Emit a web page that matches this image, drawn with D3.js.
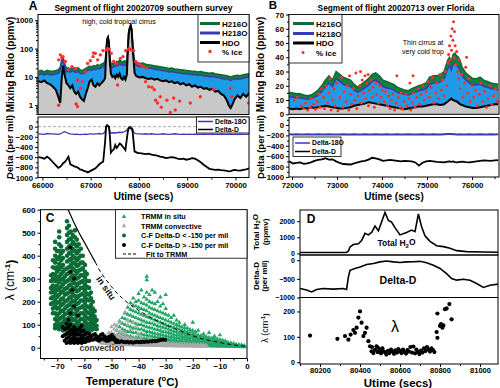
<!DOCTYPE html>
<html>
<head>
<meta charset="utf-8">
<script src="https://cdn.jsdelivr.net/npm/d3@7"></script>
<style>
  body { margin: 0; background: #fff; }
  svg { font-family: "Liberation Sans", Arial, sans-serif; }
</style>
</head>
<body>
<div id="chart"></div>
<script>
// ---------- Panel A: flight 20020709 ----------
const tA = [65920, 65980, 66040, 66100, 66160, 66220, 66280, 66330, 66370, 66400,
  66430, 66460, 66500, 66540, 66580, 66620, 66660, 66700, 66740, 66780,
  66820, 66860, 66900, 66940, 66980, 67020, 67060, 67100, 67140, 67180,
  67220, 67260, 67300, 67320, 67340, 67360, 67380, 67400, 67420, 67450,
  67480, 67510, 67540, 67570, 67600, 67630, 67660, 67690, 67720, 67750,
  67770, 67790, 67810, 67830, 67850, 67870, 67890, 67910, 67940, 67980,
  68020, 68080, 68140, 68200, 68260, 68320, 68380, 68440, 68500, 68560,
  68620, 68680, 68740, 68800, 68860, 68920, 68980, 69040, 69100, 69160,
  69220, 69280, 69340, 69400, 69460, 69520, 69580, 69640, 69700, 69760,
  69820, 69860, 69900, 69940, 69980, 70040, 70100, 70160, 70220, 70280, 70340];
const h216oA = [16, 17, 15, 17, 16, 16, 17, 18, 22, 40,
  50, 30, 20, 21, 19, 22, 20, 19, 21, 18,
  17, 18, 20, 22, 24, 22, 25, 24, 27, 25,
  28, 30, 35, 80, 230, 270, 180, 45, 30, 28,
  32, 30, 35, 33, 40, 36, 33, 37, 34, 40,
  120, 420, 600, 720, 520, 160, 60, 38, 34, 32,
  30, 31, 28, 27, 26, 25, 24, 23, 22, 21,
  20, 20.5, 19, 18.5, 18, 17.5, 17, 16.5, 16, 16,
  15, 15.5, 14.5, 14, 13.5, 14, 13, 12.5, 12, 11.5,
  11, 10.5, 10, 10.5, 11, 11.5, 11, 12, 12.5, 13, 13];
const h218oA = [12, 13, 11.5, 13, 12, 12, 13, 13.5, 16, 30,
  40, 23, 15, 16, 14.5, 17, 15, 14.5, 16, 13.5,
  13, 13.5, 15, 17, 18, 17, 19, 18, 20, 19,
  21, 23, 27, 65, 200, 240, 150, 35, 23, 21,
  24, 23, 27, 25, 30, 27, 25, 28, 26, 30,
  100, 380, 540, 660, 470, 135, 48, 29, 26, 24,
  23, 23.5, 21, 20.5, 20, 19, 18, 17.5, 16.5, 16,
  15, 15.5, 14.5, 14, 13.5, 13, 13, 12.5, 12, 12,
  11.5, 11.5, 11, 10.5, 10, 10.5, 10, 9.5, 9, 8.5,
  8.5, 8, 7.5, 8, 8.5, 8.5, 8.5, 9, 9.5, 10, 10];
const hdoA = [7, 6.5, 7.5, 6, 5.5, 4.5, 3.5, 2, 1.2, 8,
  25, 12, 6, 5, 4, 5, 3, 2.5, 3, 2,
  1.6, 1.4, 2.5, 4, 7, 8, 5, 4.5, 6, 5,
  6, 7, 9, 60, 200, 240, 150, 30, 13, 10,
  11, 9, 12, 10, 13, 9, 8, 10, 8, 12,
  80, 350, 500, 620, 450, 120, 40, 14, 11, 10,
  9.5, 10, 9, 8.5, 9, 8, 8.5, 7.5, 7, 7.5,
  6.5, 7, 6, 6.5, 5.5, 6, 5, 5.5, 4.5, 5,
  4.2, 4.5, 3.8, 4, 3.5, 3.8, 3, 3.2, 2.5, 2.2,
  1.5, 1.0, 0.8, 1.1, 1.6, 2.2, 1.8, 2.5, 2, 2.6, 2.2];
const deltaDA = [-600, -610, -630, -590, -640, -700, -760, -810, -790, -760,
  -720, -700, -650, -590, -740, -760, -780, -790, -810, -840,
  -850, -870, -880, -900, -880, -860, -840, -820, -780, -740,
  -710, -690, -300, 0, 30, 20, 0, -200, -510, -470,
  -450, -360, -420, -380, -330, -350, -390, -420, -460, -240,
  -100, -30, -20, -30, -40, -100, -300, -490, -500, -520,
  -520, -530, -540, -530, -550, -560, -570, -590, -600, -620,
  -610, -600, -610, -630, -640, -630, -650, -640, -620, -630,
  -660, -700, -750, -790, -830, -840, -850, -845, -855, -860,
  -870, -880, -875, -860, -850, -860, -865, -850, -840, -820, -830];
const delta18OA = [-140, -145, -150, -135, -140, -140, -145, -150, -140, -130,
  -110, -100, -115, -130, -140, -145, -150, -145, -150, -155,
  -150, -150, -145, -150, -140, -140, -145, -140, -140, -135,
  -140, -135, -100, -10, 10, 0, -20, -90, -130, -125,
  -120, -125, -120, -115, -110, -115, -110, -100, -90, -70,
  -40, -10, 0, 5, -10, -40, -100, -130, -135, -140,
  -140, -145, -140, -145, -140, -145, -150, -145, -140, -145,
  -150, -145, -140, -145, -150, -145, -150, -145, -150, -145,
  -150, -150, -145, -150, -150, -145, -150, -150, -145, -150,
  -150, -150, -145, -150, -150, -150, -145, -150, -150, -145, -150];
const iceA = [[66338, 40], [66373, 60], [66428, 52], [66476, 35], [66545, 18], [66614, 23], [66683, 20],
  [66731, 7.8], [66787, 4], [66828, 6.8], [66890, 15], [66938, 30], [66994, 37], [67049, 52],
  [67097, 68], [67145, 40], [67201, 60], [67256, 85], [67325, 90], [67380, 95], [67428, 68],
  [67477, 35], [67532, 30], [67559, 5.2], [67615, 45], [67670, 52], [67725, 85], [67780, 95],
  [67835, 90], [67891, 85], [67932, 35], [67987, 30], [68042, 26], [68098, 23], [68139, 6.8],
  [68167, 20], [68201, 4.5], [68270, 4.3], [68318, 3.5], [68346, 1.5], [68387, 1.2], [68443, 2],
  [68581, 1.5], [68719, 1.8], [66338, 1.0], [66700, 1.1], [66728, 0.9], [68463, 0.85],
  [68650, 0.55], [68753, 0.68], [68843, 1.4], [69064, 1.2], [69271, 2], [69547, 3.7],
  [69892, 4], [69927, 2], [70271, 1.2], [66400, 48], [67060, 70], [67350, 100], [67800, 100]];

// ---------- Panel B: flight 20020713 ----------
const tB = [71940, 72020, 72100, 72180, 72260, 72340, 72420, 72500, 72580, 72660,
  72740, 72820, 72900, 72980, 73060, 73140, 73220, 73300, 73380, 73460,
  73540, 73620, 73700, 73780, 73860, 73940, 74020, 74100, 74180, 74260,
  74340, 74420, 74500, 74580, 74660, 74740, 74820, 74900, 74980, 75060,
  75140, 75220, 75300, 75380, 75460, 75500, 75540, 75580, 75620, 75660,
  75700, 75740, 75780, 75860, 75940, 76020, 76100, 76180, 76260, 76340,
  76420, 76500, 76580];
const h216oB = [15.5, 15, 14.5, 14.5, 13.5, 13, 13.5, 15, 17, 20,
  24, 27, 24, 30, 28, 26, 25, 24, 21, 19,
  21, 23, 25, 28, 29, 27, 24, 23, 22, 21,
  19, 18, 17, 16.5, 18, 19, 20, 21, 22, 26,
  27, 27, 28, 30, 38, 40, 37, 42, 43, 41,
  40, 37, 33, 29, 27, 25, 25, 26, 24, 23,
  22, 21.5, 21];
const h218oB = [12.5, 12, 11.5, 11.5, 11, 10.5, 11, 12, 13.5, 16,
  19.5, 22, 19.5, 25, 23, 21, 20, 19.5, 17, 15.5,
  17, 18.5, 20.5, 23, 24, 22, 19.5, 18.5, 18, 17,
  15.5, 14.5, 14, 13.5, 14.5, 15.5, 16.5, 17, 18, 21,
  22, 22, 23, 25, 32, 34, 31, 35, 36, 34,
  33, 30, 27, 24, 22, 20.5, 20.5, 21, 19.5, 19,
  18, 17.5, 17];
const hdoB = [4, 3.5, 4, 3.5, 4.5, 4, 5, 4.5, 5, 5.5,
  6, 5.5, 5, 4.5, 4, 4, 4.5, 5, 6, 6.5,
  7, 7.5, 8.5, 8, 7.5, 7, 6.5, 6, 5.5, 5,
  4.5, 4, 3.5, 4, 4.5, 5, 5.5, 5.5, 6, 6.5,
  7, 7, 6.5, 7, 9, 10, 11, 10, 9.5, 9,
  8, 7, 6.5, 5.5, 5, 4.5, 4.5, 5, 5.5, 6,
  6.5, 7, 7];
const deltaDB = [-700, -740, -730, -720, -745, -740, -720, -690, -670, -660,
  -640, -665, -660, -700, -730, -750, -755, -760, -740, -720,
  -700, -690, -665, -630, -640, -660, -690, -680, -670, -680,
  -690, -700, -690, -695, -700, -720, -780, -725, -700, -690,
  -700, -710, -715, -720, -705, -700, -710, -700, -715, -720,
  -715, -710, -705, -715, -720, -710, -700, -690, -680, -685,
  -690, -680, -675];
const delta18OB = [-180, -185, -180, -182, -185, -180, -183, -185, -180, -182,
  -185, -180, -182, -185, -183, -180, -185, -182, -180, -185,
  -182, -180, -185, -183, -180, -182, -185, -180, -183, -185,
  -180, -182, -185, -180, -183, -185, -182, -180, -185, -182,
  -180, -183, -185, -180, -175, -172, -175, -178, -180, -182,
  -185, -180, -182, -185, -180, -183, -185, -180, -182, -185,
  -180, -182, -180];
const iceB = [[72050, 10], [72120, 12], [72200, 6], [72260, 4], [72300, 8], [72350, 3], [72400, 5],
  [72430, 11], [72480, 7], [72520, 3.5], [72560, 9], [72600, 14], [72620, 5], [72660, 18],
  [72700, 12], [72720, 4], [72760, 20], [72790, 8], [72820, 15], [72850, 25], [72870, 3],
  [72900, 10], [72930, 18], [72960, 6], [73000, 22], [73020, 2.5], [73060, 12], [73100, 26],
  [73130, 5], [73160, 16], [73200, 9], [73230, 20], [73260, 3], [73280, 27], [73300, 14],
  [73330, 7], [73360, 18], [73400, 10], [73420, 29], [73440, 4], [73470, 13], [73500, 20],
  [73520, 30], [73540, 8], [73560, 24], [73590, 15], [73620, 27], [73640, 11], [73660, 22],
  [73690, 28], [73700, 6], [73720, 17], [73750, 24], [73780, 12], [73800, 19], [73830, 5],
  [73860, 22], [73880, 14], [73920, 8], [73950, 20], [73980, 12], [74010, 17], [74050, 9],
  [74080, 16], [74120, 6], [74150, 13], [74180, 4], [74210, 10], [74240, 14], [74280, 3],
  [74310, 8], [74330, 27], [74360, 12], [74400, 5], [74430, 15], [74460, 3.5], [74500, 9],
  [74530, 14], [74560, 6], [74600, 11], [74620, 22], [74640, 3], [74680, 8], [74690, 27],
  [74700, 15], [74740, 5], [74770, 12], [74800, 18], [74830, 7], [74870, 14], [74900, 20],
  [74940, 10], [74980, 16], [75020, 23], [75050, 12], [75090, 19], [75120, 26], [75150, 8],
  [75190, 15], [75220, 22], [75260, 11], [75290, 28], [75320, 17], [75350, 24], [75380, 13],
  [75410, 30], [75440, 20], [75460, 36], [75480, 42], [75500, 48], [75510, 38], [75530, 55],
  [75545, 45], [75560, 60], [75575, 52], [75590, 65], [75600, 40], [75610, 58], [75625, 48],
  [75640, 35], [75660, 44], [75680, 30], [75700, 25], [75720, 38], [75740, 18], [75770, 28],
  [75800, 12], [75830, 22], [75860, 33], [75880, 40], [75900, 15], [75930, 25], [75960, 9],
  [76000, 20], [76040, 12], [76080, 17], [76120, 6], [76160, 14], [76200, 22], [76240, 9],
  [76280, 16], [76320, 5], [76360, 11], [76400, 20], [76440, 7], [76480, 13], [76520, 18], [76560, 9]];

// ---------- Panel C: lambda vs temperature ----------
// columns: [temperature, [lambda values...]]
const trmmInSitu = [
  [-48, [55, 75, 95]], [-47, [45, 65, 90, 115]], [-46, [40, 60, 80, 105, 130]],
  [-45, [35, 55, 75, 100, 125, 150]], [-44, [35, 50, 70, 95, 120, 145, 175]],
  [-43, [30, 50, 70, 90, 115, 140, 165, 195]], [-42, [30, 45, 65, 85, 110, 135, 160, 185, 215]],
  [-41, [30, 45, 65, 85, 105, 130, 155, 180, 200]], [-40, [28, 45, 60, 80, 100, 125, 150, 175, 205, 235]],
  [-39, [28, 40, 60, 80, 100, 120, 145, 170, 195, 250]], [-38, [26, 40, 55, 75, 95, 115, 140, 165, 190, 220]],
  [-37, [25, 40, 55, 70, 90, 110, 135, 160, 185, 210, 240, 295, 310]],
  [-36, [24, 38, 52, 70, 88, 108, 130, 150, 175, 200, 230]],
  [-35, [24, 36, 50, 65, 85, 105, 125, 145, 170, 195, 250]],
  [-34, [22, 35, 48, 62, 80, 100, 120, 140, 165, 190, 240]],
  [-33, [22, 34, 46, 60, 78, 95, 115, 135, 160, 200]],
  [-32, [20, 32, 45, 58, 75, 92, 110, 130, 155, 180, 220]],
  [-31, [20, 30, 42, 55, 70, 88, 105, 125, 150, 190]],
  [-30, [18, 30, 40, 52, 68, 85, 100, 120, 145, 170, 230]],
  [-29, [18, 28, 38, 50, 65, 80, 95, 115, 140]], [-28, [16, 26, 36, 48, 62, 76, 92, 110, 130]],
  [-27, [16, 25, 35, 46, 58, 72, 88, 105, 140]], [-26, [15, 24, 33, 44, 56, 70, 85, 100, 120]],
  [-25, [14, 22, 32, 42, 54, 66, 80, 95, 110]], [-24, [14, 22, 30, 40, 50, 62, 76, 90]],
  [-23, [13, 20, 28, 38, 48, 60, 72, 86, 100]], [-22, [12, 19, 27, 36, 46, 57, 70, 85]],
  [-21, [12, 18, 26, 34, 44, 54, 66, 78]], [-20, [11, 17, 24, 32, 42, 52, 62, 75, 110]],
  [-19, [10, 16, 23, 30, 38, 48, 58, 70]], [-18, [10, 15, 22, 29, 36, 45, 55, 75]],
  [-17, [9, 14, 20, 27, 34, 42, 52]], [-16, [9, 14, 19, 25, 32, 40, 50, 60]],
  [-15, [8, 13, 18, 24, 30, 38, 48]], [-14, [8, 12, 17, 22, 28, 36, 45, 65]],
  [-13, [7, 11, 16, 21, 27, 34, 42]], [-12, [7, 11, 15, 20, 25, 32, 40, 50]],
  [-11, [6, 10, 14, 19, 24, 30, 38]], [-10, [6, 10, 13, 18, 23, 28, 35, 55]],
  [-9, [6, 9, 12, 16, 21, 26, 33]], [-8, [5, 8, 11, 15, 20, 25, 30]],
  [-7, [5, 8, 11, 14, 18, 23]], [-6, [5, 7, 10, 13, 17, 21]], [-5, [4, 7, 9, 12, 15, 19]],
  [-4, [4, 6, 8, 11, 14]], [-3, [4, 6, 8, 10, 13]], [-2, [3, 5, 7, 9, 12]], [-1, [3, 5, 7, 9]]];
const trmmConvective = [
  [-54, [20, 30]], [-53, [18, 28, 40]], [-52, [16, 26, 38, 50]], [-51, [15, 25, 35, 50, 65]],
  [-50, [15, 24, 34, 48, 65, 90]], [-49, [14, 22, 32, 45, 60, 80, 100]], [-48, [14, 22, 30, 42, 55, 75, 95]],
  [-47, [13, 20, 28, 40, 55, 70, 110]], [-46, [13, 20, 28, 38, 50, 65]], [-45, [12, 19, 26, 36, 48, 62, 155]],
  [-44, [12, 18, 25, 34, 45, 100, 120]], [-43, [12, 18, 24, 32, 42, 80]], [-42, [11, 17, 23, 30, 40, 110]],
  [-41, [11, 16, 22, 29, 38, 90]], [-40, [11, 16, 21, 28, 60]], [-39, [10, 15, 20, 27, 45]],
  [-38, [10, 15, 20, 26]], [-37, [10, 14, 19, 25]], [-36, [10, 14, 18, 24, 40]], [-35, [9, 13, 18, 23]],
  [-34, [9, 13, 17, 22]], [-33, [9, 12, 16, 21]], [-32, [9, 12, 16, 20]], [-31, [8, 12, 15, 19]],
  [-30, [8, 11, 15, 19]], [-29, [8, 11, 14, 18]], [-28, [8, 11, 14, 17]], [-27, [8, 10, 13, 17]],
  [-26, [7, 10, 13, 16]], [-25, [7, 10, 13, 16]], [-24, [7, 10, 12, 15]], [-23, [7, 9, 12, 15]],
  [-22, [7, 9, 12, 14]], [-21, [7, 9, 11, 14]], [-20, [6, 9, 11, 14]], [-19, [6, 9, 11, 13]],
  [-18, [6, 8, 11, 13]], [-17, [6, 8, 10, 13]], [-16, [6, 8, 10, 12]], [-15, [6, 8, 10]]];
const cfDepleted = [
  [-72.3, [315, 290, 260, 240, 215, 190]],
  [-71.6, [380, 350, 320, 300, 270, 245, 220, 195, 170, 150]],
  [-70.8, [460, 430, 400, 370, 345, 315, 290, 260, 235, 205, 180, 150, 125, 100, 85]],
  [-70.1, [420, 385, 350, 330, 300, 270, 250, 220, 195, 170, 140, 115, 90]],
  [-69.3, [505, 480, 450, 420, 395, 365, 340, 310, 285, 255, 230, 200, 175, 150, 125, 100, 80]],
  [-68.6, [440, 410, 380, 350, 320, 295, 265, 240, 210, 185, 160, 130, 105, 85]],
  [-67.9, [420, 390, 360, 330, 300, 275, 245, 215, 190, 160, 135, 110, 90, 75]],
  [-67.2, [340, 310, 285, 255, 230, 200, 170, 145, 120, 95, 80]],
  [-66.4, [550, 520, 490, 460, 430, 400, 375, 345, 320, 290, 260, 235, 205, 180, 150, 125, 100, 80, 65]],
  [-65.7, [530, 500, 470, 440, 410, 380, 350, 325, 295, 270, 240, 215, 185, 160, 130, 105, 85, 70]],
  [-65.0, [505, 475, 445, 415, 385, 360, 330, 305, 275, 250, 220, 195, 165, 140, 115, 95, 75]],
  [-64.3, [490, 460, 430, 400, 370, 345, 315, 290, 260, 235, 205, 180, 150, 125, 100, 80, 65]],
  [-63.5, [510, 480, 450, 420, 390, 365, 335, 310, 280, 255, 225, 200, 170, 145, 120, 95, 75]],
  [-62.8, [470, 440, 410, 380, 355, 325, 300, 270, 245, 215, 190, 160, 135, 110, 90, 70]],
  [-62.1, [450, 420, 390, 360, 335, 305, 280, 250, 225, 195, 170, 140, 115, 95, 75]],
  [-61.3, [430, 400, 370, 340, 315, 285, 260, 230, 205, 175, 150, 125, 100, 80]],
  [-60.6, [400, 370, 345, 315, 290, 260, 235, 205, 180, 150, 125, 100, 80]],
  [-59.8, [360, 330, 305, 275, 250, 220, 195, 165, 140, 115, 90, 70]],
  [-59.1, [320, 290, 265, 235, 210, 180, 155, 130, 105, 85]],
  [-58.3, [290, 260, 230, 205, 175, 150, 125, 100, 80]],
  [-57.6, [240, 215, 185, 160, 135, 110, 90, 75]],
  [-56.9, [200, 170, 145, 120, 100, 80]],
  [-56.2, [160, 135, 110, 90]],
  [-55.5, [120, 95, 80]]];
const cfEnriched = [
  [-68.0, [50, 90]], [-67.3, [30, 55, 80]], [-66.6, [20, 40, 60, 85, 105]],
  [-65.9, [25, 45, 65, 90, 120]], [-65.2, [20, 35, 55, 75, 100, 150, 330, 435]],
  [-64.5, [25, 40, 60, 80, 250]], [-63.8, [20, 35, 50, 70, 90, 180, 300]],
  [-63.1, [25, 40, 60, 80]], [-62.4, [20, 35, 55, 75, 140]], [-61.7, [25, 40, 60, 85]],
  [-61.0, [20, 35, 50, 70, 95]], [-60.3, [25, 40, 55, 75]], [-59.6, [25, 40, 60]],
  [-58.9, [30, 45, 65]], [-58.2, [30, 45, 60]], [-57.5, [35, 50]], [-56.8, [35, 55]],
  [-56.1, [40, 60]], [-55.4, [35, 50]], [-54.7, [30, 45]], [-54.0, [35, 55]],
  [-53.3, [40, 60]], [-52.6, [35, 50]], [-51.9, [30, 40]], [-51.2, [30, 45]],
  [-50.5, [35, 50]], [-49.8, [40, 55]], [-49.1, [35, 45]], [-48.4, [25, 35]], [-47.7, [25, 30]],
  [-47.0, [25]], [-46.3, [28]], [-45.6, [25]], [-44.9, [24]], [-44.2, [26]], [-43.5, [23]],
  [-42.8, [25]], [-42.1, [22]], [-41.4, [24]], [-40.7, [26]], [-40.0, [25]], [-39.3, [24]],
  [-38.6, [26]], [-37.9, [25]], [-37.2, [27]], [-36.5, [26]], [-35.8, [28]], [-35.1, [27]],
  [-34.4, [29]], [-33.7, [28]], [-33.0, [30]], [-32.3, [32]], [-31.6, [34]], [-30.9, [36]], [-30.2, [34]]];
const fitT = [-66, -64, -62, -60, -58, -56, -54, -52, -50, -48, -46, -44, -42, -39, -36, -33, -30, -27, -24, -21, -18, -15, -12, -9, -6, -3, 0];
const fitL = [600, 548, 500, 458, 415, 372, 328, 295, 265, 238, 215, 195, 178, 155, 135, 116, 100, 84, 70, 56, 44, 34, 27, 20, 14, 9, 6];

// ---------- Panel D: case study ----------
const tTotal = [80100, 80150, 80200, 80250, 80300, 80333, 80342, 80350, 80367, 80392, 80408, 80425,
  80442, 80458, 80475, 80492, 80508, 80525, 80542, 80558, 80575, 80600, 80633, 80658, 80675,
  80692, 80708, 80725, 80750, 80783, 80817, 80850, 80883, 80933, 81017, 81092];
const totalH2O = [60, 60, 60, 55, 55, 60, 150, 400, 550, 600, 800, 1250,
  1150, 1300, 1700, 1400, 1950, 2550, 2050, 1950, 1600, 1150, 1300, 1450, 1350,
  2450, 1650, 1100, 750, 480, 420, 320, 170, 110, 90, 70];
const tDeltaD = [80100, 80133, 80158, 80183, 80217, 80267, 80317, 80333, 80342, 80350, 80375,
  80400, 80433, 80467, 80500, 80533, 80567, 80600, 80633, 80667, 80700, 80733, 80767, 80800,
  80833, 80858, 80883, 80917, 80950, 80983, 81017, 81050, 81092];
const deltaDD = [-760, -800, -850, -785, -760, -775, -760, -785, -450, -270, -220,
  -180, -115, -90, -45, -20, -45, -60, -45, -40, -30, -70, -135, -220,
  -360, -490, -535, -510, -535, -625, -730, -670, -640];
const lambdaD = [[80150, 105], [80287, 92], [80325, 103], [80342, 89], [80353, 109], [80367, 127],
  [80375, 116], [80383, 136], [80392, 176], [80400, 200], [80408, 156], [80417, 103], [80425, 116],
  [80433, 136], [80442, 83], [80450, 63], [80458, 43], [80460, 60], [80467, 36], [80475, 49],
  [80483, 63], [80488, 40], [80492, 56], [80500, 45], [80505, 35], [80508, 49], [80512, 55],
  [80517, 43], [80525, 40], [80532, 30], [80540, 45], [80547, 36], [80555, 50], [80562, 42],
  [80570, 33], [80577, 47], [80585, 38], [80592, 52], [80600, 44], [80607, 36], [80615, 50],
  [80622, 40], [80630, 34], [80637, 48], [80645, 42], [80652, 60], [80660, 38], [80667, 62],
  [80675, 35], [80682, 50], [80690, 40], [80697, 32], [80705, 46], [80712, 38], [80720, 55],
  [80727, 44], [80735, 60], [80742, 50], [80750, 42], [80757, 55], [80765, 48], [80772, 40],
  [80783, 119], [80787, 192], [80787, 96], [80800, 143], [80805, 150], [80812, 136], [80817, 145],
  [80825, 209], [80833, 212], [80847, 229], [80858, 169]];

// tick values
const ticksAx = [66000, 67000, 68000, 69000, 70000];
const ticksBx = [72000, 73000, 74000, 75000, 76000];
const ticksLog = [1, 10, 100, 1000];
const ticksDelta = [0, -200, -400, -600, -800, -1000];
const ticksBy = [0, 10, 20, 30, 40, 50, 60, 70];
const ticksCx = [-70, -60, -50, -40, -30, -20, -10, 0];
const ticksCy = [0, 100, 200, 300, 400, 500, 600];
const ticksDx = [80200, 80400, 80600, 80800, 81000];
const ticksD1 = [0, 1000, 2000];
const ticksD2 = [0, -500, -1000];
const ticksD3 = [0, 100, 200];

// colours
const cGreen = "#13803f", cGreenLine = "#0b6a35", cBlueFill = "#1e9be6", cBlueLine = "#3a3ab2";
const cGray = "#c8c8c8", cIce = "#ff3030";
const cTrmm = "#22a566", cConv = "#a8a8a8", cDepl = "#0c6c37";

const W = 500, H = 388;
const svg = d3.select("#chart").append("svg").attr("width", W).attr("height", H);
svg.append("rect").attr("width", W).attr("height", H).attr("fill", "#fff");

// scales
const xA = d3.scaleLinear([65910, 70280], [38, 249]);
const yA1 = d3.scaleLog([0.47, 1600], [114.5, 14.5]);
const yA2 = d3.scaleLinear([-1000, 190], [177.5, 117]);
const xB = d3.scaleLinear([71933, 76600], [289, 499]);
const yB1 = d3.scaleLinear([0, 70], [114.3, 14.5]);
const yB2 = d3.scaleLinear([-1000, 144], [177, 117.5]);
const xC = d3.scaleLinear([-76.2, 0], [40.5, 247]);
const yC = d3.scaleLinear([-47, 600], [358.5, 209.7]);
const xD = d3.scaleLinear([80100, 81090], [300, 498]);
const yD1 = d3.scaleLinear([-100, 2700], [255, 210]);
const yD2 = d3.scaleLinear([-1000, 140], [297.5, 255]);
const yD3 = d3.scaleLinear([-7, 255], [364, 297.5]);

let clipN = 0;
function plotArea(x, y) {
  const id = "clip" + (clipN++);
  const [x0, x1] = x.range(), [y1, y0] = y.range();
  svg.append("clipPath").attr("id", id).append("rect")
    .attr("x", x0).attr("y", y0).attr("width", x1 - x0).attr("height", y1 - y0);
  return svg.append("g").attr("clip-path", `url(#${id})`);
}
function frame(x, y) {
  const [x0, x1] = x.range(), [y1, y0] = y.range();
  svg.append("rect").attr("x", x0).attr("y", y0).attr("width", x1 - x0).attr("height", y1 - y0)
    .attr("fill", "none").attr("stroke", "#000").attr("stroke-width", 1);
}
function axis(gen, tx, ty, fs) {
  const g = svg.append("g").attr("transform", `translate(${tx},${ty})`).call(gen);
  g.attr("font-family", null).attr("font-size", fs).attr("font-weight", "bold");
  g.select(".domain").remove();
  g.selectAll("line").attr("stroke", "#000");
  return g;
}
function leftAxis(y, x, ticks, fmt, fs, minor) {
  axis(d3.axisLeft(y).tickValues(ticks).tickSize(3).tickPadding(2).tickFormat(fmt), x, 0, fs);
  if (minor) axis(d3.axisLeft(y).tickValues(minor).tickSize(2).tickFormat(""), x, 0, fs);
}
function bottomAxis(x, y, ticks, fmt, fs, minor, pad) {
  axis(d3.axisBottom(x).tickValues(ticks).tickSize(3).tickPadding(pad === undefined ? 2 : pad).tickFormat(fmt), 0, y, fs);
  if (minor) axis(d3.axisBottom(x).tickValues(minor).tickSize(2).tickFormat(""), 0, y, fs);
}
function text(x, y, s, fs, opts = {}) {
  return svg.append("text").attr("x", x).attr("y", y).attr("font-size", fs)
    .attr("font-weight", opts.weight || "bold").attr("text-anchor", opts.anchor || "middle")
    .attr("fill", opts.fill || "#000").text(s);
}
function vtext(x, y, fs) {
  return svg.append("text").attr("transform", `translate(${x},${y}) rotate(-90)`)
    .attr("text-anchor", "middle").attr("font-size", fs).attr("font-weight", "bold");
}
const fmtInt = d3.format("d");
const flat = cols => cols.flatMap(([t, ls]) => ls.map(l => [t, l]));

// ============ Panel A ============
{
  const g = plotArea(xA, yA1);
  const base = yA1.range()[0];
  const idx = d3.range(tA.length);
  const area = vals => d3.area().x(i => xA(tA[i])).y0(base).y1(i => yA1(vals[i]));
  const line = vals => d3.line().x(i => xA(tA[i])).y(i => yA1(vals[i]));
  g.append("path").attr("d", area(h216oA)(idx)).attr("fill", cGreen);
  g.append("path").attr("d", area(h218oA)(idx)).attr("fill", cBlueFill);
  g.append("path").attr("d", area(hdoA)(idx)).attr("fill", cGray);
  g.append("path").attr("d", line(h216oA)(idx)).attr("fill", "none").attr("stroke", cGreenLine).attr("stroke-width", 1.5);
  g.append("path").attr("d", line(h218oA)(idx)).attr("fill", "none").attr("stroke", cBlueLine).attr("stroke-width", 1.5);
  g.append("path").attr("d", line(hdoA)(idx)).attr("fill", "none").attr("stroke", "#000").attr("stroke-width", 2);
  g.selectAll(".ice").data(iceA).join("circle").attr("cx", d => xA(d[0])).attr("cy", d => yA1(d[1]))
    .attr("r", 1.7).attr("fill", cIce);

  const g2 = plotArea(xA, yA2);
  g2.append("line").attr("x1", xA.range()[0]).attr("x2", xA.range()[1]).attr("y1", yA2(0)).attr("y2", yA2(0))
    .attr("stroke", "#aaa").attr("stroke-dasharray", "3,2");
  g2.append("path").attr("d", d3.line().x(i => xA(tA[i])).y(i => yA2(delta18OA[i]))(idx))
    .attr("fill", "none").attr("stroke", cBlueLine).attr("stroke-width", 1.3);
  g2.append("path").attr("d", d3.line().x(i => xA(tA[i])).y(i => yA2(deltaDA[i]))(idx))
    .attr("fill", "none").attr("stroke", "#000").attr("stroke-width", 1.8);

  frame(xA, yA1); frame(xA, yA2);
  const minorLog = [];
  [0.1, 1, 10, 100, 1000].forEach(d => [2, 3, 4, 5, 6, 7, 8, 9].forEach(m => {
    const v = d * m; if (v > 0.47 && v < 1600) minorLog.push(v);
  }));
  leftAxis(yA1, 38, ticksLog, fmtInt, 7.8, minorLog);
  leftAxis(yA2, 38, ticksDelta, fmtInt, 7.8, [-100, -300, -500, -700, -900, 100]);
  bottomAxis(xA, 177.5, ticksAx, fmtInt, 7.8, [66500, 67500, 68500, 69500]);

  // legends
  svg.append("rect").attr("x", 198).attr("y", 14.5).attr("width", 51).attr("height", 47.5)
    .attr("fill", "#fff").attr("stroke", "#000").attr("stroke-width", 0.8);
  [["H216O", cGreenLine, 23.5], ["H218O", cBlueLine, 33], ["HDO", "#000", 42.5]].forEach(([s, c, y]) => {
    svg.append("line").attr("x1", 200).attr("x2", 220).attr("y1", y).attr("y2", y).attr("stroke", c).attr("stroke-width", 3);
    text(222, y + 3, s, 8, { anchor: "start" });
  });
  svg.append("circle").attr("cx", 210).attr("cy", 51.5).attr("r", 1.7).attr("fill", cIce);
  text(222, 54.5, "% ice", 8, { anchor: "start" });

  svg.append("rect").attr("x", 196.5).attr("y", 117).attr("width", 52.5).attr("height", 16)
    .attr("fill", "#fff").attr("stroke", "#000").attr("stroke-width", 0.8);
  [["Delta-18O", cBlueLine, 121.5], ["Delta-D", "#000", 129.5]].forEach(([s, c, y]) => {
    svg.append("line").attr("x1", 198).attr("x2", 213).attr("y1", y).attr("y2", y).attr("stroke", c).attr("stroke-width", 1.5);
    text(215, y + 2.3, s, 6.8, { anchor: "start" });
  });

  text(33, 9.5, "A", 12);
  text(143.5, 10.5, "Segment of flight 20020709 southern survey", 8.5);
  text(119, 23.5, "high, cold tropical cirrus", 7, { weight: "normal" });
  vtext(10, 64.5, 10).attr("dy", "0.35em").text("Mixing Ratio (ppmv)");
  vtext(10, 147, 9.6).attr("dy", "0.35em").text("Delta (per mil)");
  text(143.5, 200, "Utime (secs)", 10);
}

// ============ Panel B ============
{
  const g = plotArea(xB, yB1);
  const base = yB1.range()[0];
  const idx = d3.range(tB.length);
  const area = vals => d3.area().x(i => xB(tB[i])).y0(base).y1(i => yB1(vals[i]));
  const line = vals => d3.line().x(i => xB(tB[i])).y(i => yB1(vals[i]));
  g.append("path").attr("d", area(h216oB)(idx)).attr("fill", cGreen);
  g.append("path").attr("d", area(h218oB)(idx)).attr("fill", cBlueFill);
  g.append("path").attr("d", area(hdoB)(idx)).attr("fill", cGray);
  g.append("path").attr("d", line(h216oB)(idx)).attr("fill", "none").attr("stroke", cGreenLine).attr("stroke-width", 1.5);
  g.append("path").attr("d", line(h218oB)(idx)).attr("fill", "none").attr("stroke", cBlueLine).attr("stroke-width", 1.5);
  g.append("path").attr("d", line(hdoB)(idx)).attr("fill", "none").attr("stroke", "#000").attr("stroke-width", 2);
  g.selectAll(".ice").data(iceB).join("circle").attr("cx", d => xB(d[0])).attr("cy", d => yB1(d[1]))
    .attr("r", 1.5).attr("fill", cIce);

  const g2 = plotArea(xB, yB2);
  g2.append("path").attr("d", d3.line().x(i => xB(tB[i])).y(i => yB2(delta18OB[i]))(idx))
    .attr("fill", "none").attr("stroke", cBlueLine).attr("stroke-width", 2);
  g2.append("path").attr("d", d3.line().x(i => xB(tB[i])).y(i => yB2(deltaDB[i]))(idx))
    .attr("fill", "none").attr("stroke", "#000").attr("stroke-width", 1.8);

  frame(xB, yB1); frame(xB, yB2);
  leftAxis(yB1, 289, ticksBy, fmtInt, 7.8, [5, 15, 25, 35, 45, 55, 65]);
  leftAxis(yB2, 289, ticksDelta, fmtInt, 7.8, [-100, -300, -500, -700, -900, 100]);
  bottomAxis(xB, 177, ticksBx, fmtInt, 7.8, [72500, 73500, 74500, 75500, 76500]);

  svg.append("rect").attr("x", 289).attr("y", 14.5).attr("width", 53).attr("height", 48.5)
    .attr("fill", "#fff").attr("stroke", "#000").attr("stroke-width", 0.8);
  [["H216O", cGreenLine, 23.5], ["H218O", cBlueLine, 33.5], ["HDO", "#000", 43]].forEach(([s, c, y]) => {
    svg.append("line").attr("x1", 293).attr("x2", 314).attr("y1", y).attr("y2", y).attr("stroke", c).attr("stroke-width", 3);
    text(316, y + 3, s, 8, { anchor: "start" });
  });
  svg.append("circle").attr("cx", 303).attr("cy", 52.5).attr("r", 1.5).attr("fill", cIce);
  text(316, 55.5, "% ice", 8, { anchor: "start" });

  svg.append("rect").attr("x", 293).attr("y", 137).attr("width", 48).attr("height", 19.5)
    .attr("fill", "#fff").attr("stroke", "#000").attr("stroke-width", 0.8);
  [["Delta-18O", cBlueLine, 143], ["Delta-D", "#000", 151.5]].forEach(([s, c, y]) => {
    svg.append("line").attr("x1", 295).attr("x2", 310).attr("y1", y).attr("y2", y).attr("stroke", c).attr("stroke-width", 1.5);
    text(312, y + 2.3, s, 6.8, { anchor: "start" });
  });

  text(273, 9, "B", 11.5);
  text(396, 10.5, "Segment of flight 20020713 over Florida", 8.3);
  text(423, 45, "Thin cirrus at", 7, { weight: "normal" });
  text(423, 54, "very cold trop", 7, { weight: "normal" });
  vtext(260, 64.5, 10).attr("dy", "0.35em").text("Mixing Ratio (ppmv)");
  vtext(261, 147, 9.6).attr("dy", "0.35em").text("Delta (per mil)");
  text(394, 200, "Utime (secs)", 10);
}

// ============ Panel C ============
{
  const g = plotArea(xC, yC);
  const tri = d3.symbol(d3.symbolTriangle, 9);
  g.selectAll(".ts").data(flat(trmmInSitu)).join("path").attr("d", tri)
    .attr("transform", d => `translate(${xC(d[0])},${yC(d[1])})`).attr("fill", cTrmm);
  g.selectAll(".tc").data(flat(trmmConvective)).join("path").attr("d", tri)
    .attr("transform", d => `translate(${xC(d[0])},${yC(d[1])})`).attr("fill", cConv);
  g.selectAll(".cd").data(flat(cfDepleted)).join("circle")
    .attr("cx", d => xC(d[0])).attr("cy", d => yC(d[1])).attr("r", 2.3).attr("fill", cDepl);
  g.selectAll(".ce").data(flat(cfEnriched)).join("circle")
    .attr("cx", d => xC(d[0])).attr("cy", d => yC(d[1])).attr("r", 2).attr("fill", "#000");
  const fitIdx = d3.range(fitT.length);
  const fl = d3.line().x(i => xC(fitT[i])).y(i => yC(fitL[i]));
  g.append("path").attr("d", fl(fitIdx.filter(i => fitT[i] <= -56))).attr("fill", "none")
    .attr("stroke", "#000").attr("stroke-width", 1.2);
  g.append("path").attr("d", fl(fitIdx.filter(i => fitT[i] >= -56))).attr("fill", "none")
    .attr("stroke", "#000").attr("stroke-width", 1).attr("stroke-dasharray", "4,3");

  frame(xC, yC);
  leftAxis(yC, 40.5, ticksCy, fmtInt, 8, [50, 150, 250, 350, 450, 550]);
  bottomAxis(xC, 358.5, ticksCx, fmtInt, 8, [-75, -65, -55, -45, -35, -25, -15, -5]);

  // legend
  svg.append("rect").attr("x", 115.5).attr("y", 209.7).attr("width", 131.5).attr("height", 48.5)
    .attr("fill", "#fff").attr("stroke", "#000").attr("stroke-width", 0.8);
  const lg = [["TRMM in situ", "tri", cTrmm, 216.7], ["TRMM convective", "tri", cConv, 226],
    ["C-F Delta-D < -150 per mil", "dot", cDepl, 235.5], ["C-F Delta-D > -150 per mil", "dot", "#000", 245]];
  lg.forEach(([s, k, c, y]) => {
    if (k === "tri") svg.append("path").attr("d", tri).attr("transform", `translate(124,${y})`).attr("fill", c);
    else svg.append("circle").attr("cx", 124).attr("cy", y).attr("r", 2).attr("fill", c);
    text(141, y + 2.6, s, 7.2, { anchor: "start" });
  });
  svg.append("line").attr("x1", 123).attr("x2", 138).attr("y1", 254).attr("y2", 254)
    .attr("stroke", "#000").attr("stroke-dasharray", "3,2");
  text(146, 256.6, "Fit to TRMM", 7.2, { anchor: "start" });

  text(50, 222, "C", 12);
  svg.append("text").attr("transform", "translate(106,288) rotate(55)").attr("text-anchor", "middle")
    .attr("font-size", 9).attr("font-weight", "bold").attr("dy", "0.35em").text("in situ");
  text(102, 351, "convection", 8.5, { fill: "#333" });
  const yl = vtext(10, 280, 12).attr("dy", "0.35em");
  yl.append("tspan").attr("font-weight", "normal").text("λ (cm");
  yl.append("tspan").attr("font-size", 8).attr("dy", "-0.5em").text("-1");
  yl.append("tspan").attr("dy", "0.4em").text(")");
  const xl = text(132, 384.5, "Temperature (", 11.5);
  xl.append("tspan").attr("font-size", 7.5).attr("dy", "-0.5em").text("o");
  xl.append("tspan").attr("dy", "0.45em").text("C)");
}

// ============ Panel D ============
{
  const g1 = plotArea(xD, yD1);
  const i1 = d3.range(tTotal.length);
  g1.append("path").attr("d", d3.line().x(i => xD(tTotal[i])).y(i => yD1(totalH2O[i]))(i1))
    .attr("fill", "none").attr("stroke", "#000").attr("stroke-width", 1.6);
  const g2 = plotArea(xD, yD2);
  const i2 = d3.range(tDeltaD.length);
  g2.append("path").attr("d", d3.line().x(i => xD(tDeltaD[i])).y(i => yD2(deltaDD[i]))(i2))
    .attr("fill", "none").attr("stroke", "#000").attr("stroke-width", 1.6);
  const g3 = plotArea(xD, yD3);
  g3.selectAll(".lam").data(lambdaD).join("circle").attr("cx", d => xD(d[0])).attr("cy", d => yD3(d[1]))
    .attr("r", 2.1).attr("fill", "#000");

  frame(xD, yD1); frame(xD, yD2); frame(xD, yD3);
  leftAxis(yD1, 300, ticksD1, fmtInt, 7);
  leftAxis(yD2, 300, ticksD2, fmtInt, 7);
  leftAxis(yD3, 300, ticksD3, fmtInt, 7);
  bottomAxis(xD, 364, ticksDx, fmtInt, 7.5, [80100, 80300, 80500, 80700, 80900], 1);

  text(311, 223, "D", 12);
  const th = text(396.5, 246, "Total H", 8.5);
  th.append("tspan").attr("font-size", 6).attr("dy", "0.3em").text("2");
  th.append("tspan").attr("dy", "-0.3em").text("O");
  text(398, 284, "Delta-D", 10.5);
  text(395, 331.5, "λ", 16, { weight: "normal" });

  const t1 = vtext(258.5, 232, 8);
  t1.append("tspan").text("Total H");
  t1.append("tspan").attr("font-size", 6).attr("dy", "0.3em").text("2");
  t1.append("tspan").attr("dy", "-0.3em").text("O");
  vtext(267.5, 232, 8).text("(ppmv)");
  vtext(258.5, 276, 8).text("Delta-D");
  vtext(267, 276, 8).text("(per mil)");
  const t3 = vtext(265, 328, 8).attr("dy", "0.35em");
  t3.append("tspan").attr("font-weight", "normal").attr("font-size", 9).text("λ (cm");
  t3.append("tspan").attr("font-size", 5.5).attr("dy", "-0.5em").text("-1");
  t3.append("tspan").attr("dy", "0.4em").text(")");
  text(398, 386.5, "Utime (secs)", 11.5);
}
</script>
</body>
</html>
